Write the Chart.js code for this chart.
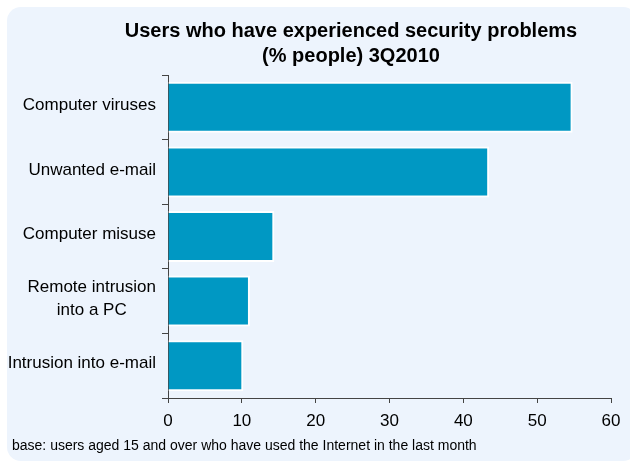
<!DOCTYPE html>
<html>
<head>
<meta charset="utf-8">
<script src="https://cdn.jsdelivr.net/npm/chart.js@4.4.0/dist/chart.umd.min.js"></script>
<style>
  html, body { margin: 0; padding: 0; background: #fff; }
  #panel {
    position: absolute; left: 7px; top: 7px; width: 630px; height: 454px;
    background: #edf4fd; border-radius: 14px;
  }
  #wrap { position: absolute; left: 0; top: 0; width: 630px; height: 466px; }
</style>
</head>
<body>
<div id="panel"></div>
<div id="wrap"><canvas id="chart" width="630" height="466"></canvas></div>
<script>
// data
var categories = [
  'Computer viruses',
  'Unwanted e-mail',
  'Computer misuse',
  ['Remote intrusion', 'into a PC'],
  'Intrusion into e-mail'
];
var shares = [54.8, 43.5, 14.4, 11.1, 10.2];
var xTicks = [0, 10, 20, 30, 40, 50, 60];

var titleLines = ['Users who have experienced security problems', '(% people) 3Q2010'];
var footnote = 'base: users aged 15 and over who have used the Internet in the last month';

var FONT = '"Liberation Sans", Arial, sans-serif';

// draws title, footnote and the y labels (lines centred inside a right-aligned block)
var textPlugin = {
  id: 'textPlugin',
  afterDraw: function (chart) {
    var ctx = chart.ctx;
    ctx.save();
    ctx.fillStyle = '#000';
    ctx.textBaseline = 'middle';

    ctx.font = 'bold 20px ' + FONT;
    ctx.textAlign = 'center';
    ctx.fillText(titleLines[0], 351, 31);
    ctx.fillText(titleLines[1], 351, 56);

    ctx.font = '14px ' + FONT;
    ctx.textAlign = 'left';
    ctx.fillText(footnote, 12, 446);

    var y = chart.scales.y;
    ctx.font = '17px ' + FONT;
    ctx.textAlign = 'center';
    var right = y.right - 12;
    categories.forEach(function (lab, i) {
      var lines = Array.isArray(lab) ? lab : [lab];
      var w = 0;
      lines.forEach(function (l) { w = Math.max(w, ctx.measureText(l).width); });
      var cy = y.getPixelForValue(i);
      var lh = 23;
      lines.forEach(function (l, k) {
        ctx.fillText(l, right - w / 2, cy + (k - (lines.length - 1) / 2) * lh - 2);
      });
    });
    ctx.restore();
  }
};

new Chart(document.getElementById('chart'), {
  type: 'bar',
  data: {
    labels: categories,
    datasets: [{
      data: shares,
      backgroundColor: '#0098c3',
      borderColor: '#ffffff',
      borderWidth: 2,
      borderSkipped: 'start',
      barPercentage: 0.79,
      categoryPercentage: 1
    }]
  },
  options: {
    indexAxis: 'y',
    responsive: false,
    animation: false,
    layout: { padding: { top: 75, right: 19, left: 0, bottom: 0 } },
    plugins: {
      legend: { display: false },
      tooltip: { enabled: false }
    },
    scales: {
      y: {
        afterFit: function (s) { s.width = 168; },
        ticks: { display: false },
        grid: {
          drawOnChartArea: false, drawTicks: true, tickLength: 6,
          color: '#444', offset: true
        },
        border: { display: true, color: '#444', width: 1 }
      },
      x: {
        min: 0,
        max: 60,
        afterFit: function (s) { s.height = 68; },
        afterBuildTicks: function (s) {
          s.ticks = xTicks.map(function (v) { return { value: v }; });
        },
        ticks: {
          color: '#000',
          font: { family: FONT, size: 17 },
          padding: 8,
          maxRotation: 0
        },
        grid: {
          drawOnChartArea: false, drawTicks: true, tickLength: 5, color: '#444'
        },
        border: { display: true, color: '#444', width: 1 }
      }
    }
  },
  plugins: [textPlugin]
});
</script>
</body>
</html>
